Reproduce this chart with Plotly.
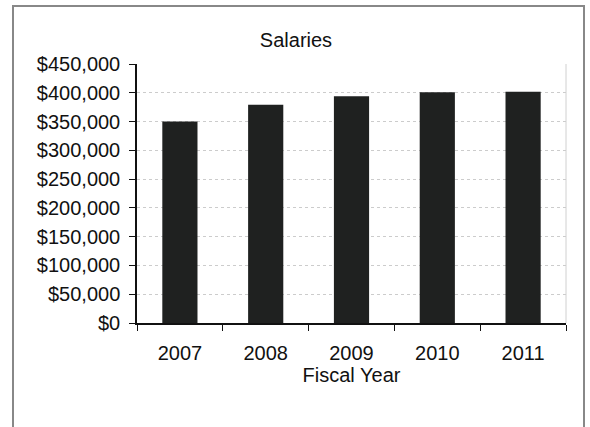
import plotly.graph_objects as go

years = ["2007", "2008", "2009", "2010", "2011"]
salaries = [350000, 379000, 394000, 401000, 402000]
y_ticks = [0, 50000, 100000, 150000, 200000, 250000, 300000, 350000, 400000, 450000]
y_tick_labels = ["$0", "$50,000", "$100,000", "$150,000", "$200,000", "$250,000",
                 "$300,000", "$350,000", "$400,000", "$450,000"]

FONT = "Liberation Sans, Arial, sans-serif"

fig = go.Figure(go.Bar(x=years, y=salaries, marker=dict(color="#1f2120", line=dict(width=0)),
                       width=0.41, hoverinfo="skip"))

fig.update_layout(
    width=590, height=427,
    margin=dict(l=137, r=24, t=64, b=104),
    paper_bgcolor="white", plot_bgcolor="white",
    font=dict(family=FONT, size=20, color="#111"),
    title=dict(text="Salaries", x=(296 / 590), xanchor="center", y=1 - 40 / 427, yanchor="middle",
               font=dict(size=20, family=FONT, color="#111")),
    showlegend=False,
    bargap=0.59,
)
fig.update_xaxes(
    type="category", showline=True, linecolor="#111", linewidth=1.5,
    ticks="outside", tickson="boundaries", ticklen=6, tickcolor="#111",
    showgrid=False, ticklabelstandoff=11,
    title=dict(text="Fiscal Year", standoff=3, font=dict(size=20)),
    mirror=False,
)
fig.update_yaxes(
    range=[0, 450000], tickvals=y_ticks, ticktext=y_tick_labels,
    showline=True, linecolor="#111", linewidth=1.5,
    ticks="outside", ticklen=6, tickcolor="#111",
    showgrid=True, gridcolor="#cccccc", griddash="dot", gridwidth=1,
    zeroline=False, ticklabelstandoff=5,
)
# light right border of plot area
fig.add_shape(type="line", xref="paper", yref="paper", x0=1, x1=1, y0=0, y1=1,
              line=dict(color="#d0d0d0", width=1))
# outer chart border
fig.add_shape(type="rect", xref="paper", yref="paper",
              x0=(13 - 137) / 429, x1=(584 - 137) / 429, y0=(323 - 460) / 259, y1=1 + 58 / 259,
              line=dict(color="#888", width=2), layer="below")

fig.write_html("out.html", config={"displayModeBar": False},
               post_script="document.body.style.margin='0px';")
